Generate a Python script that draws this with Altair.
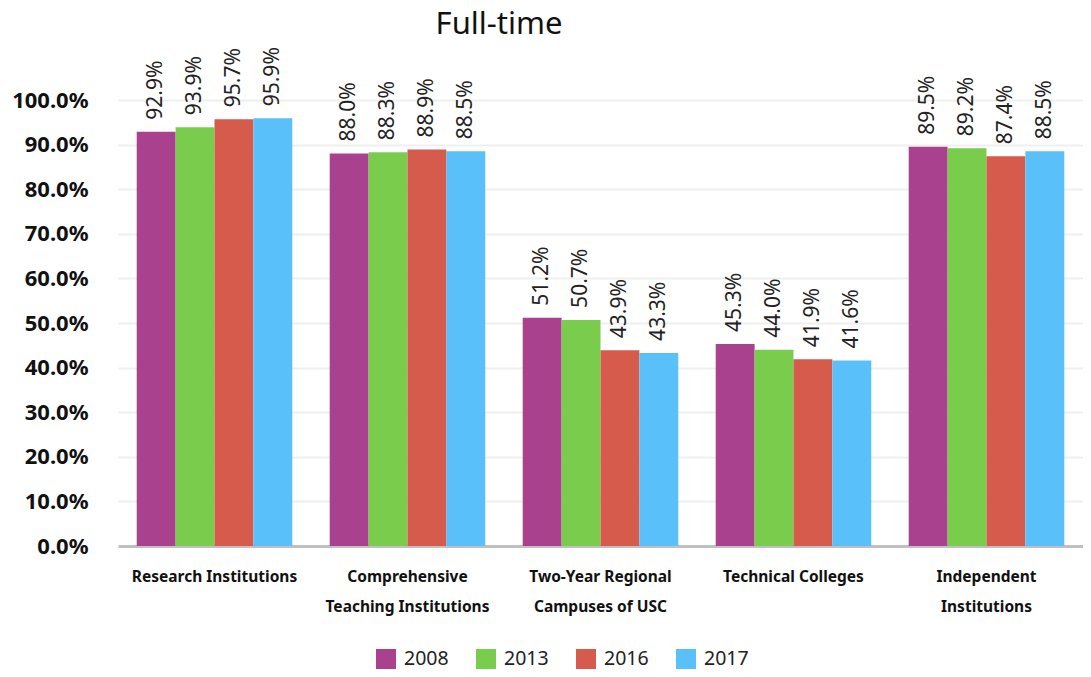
import altair as alt
import pandas as pd

categories = ["Research Institutions", "Comprehensive|Teaching Institutions",
              "Two-Year Regional|Campuses of USC", "Technical Colleges",
              "Independent|Institutions"]
years = ["2008", "2013", "2016", "2017"]
values = {
    "2008": [92.9, 88.0, 51.2, 45.3, 89.5],
    "2013": [93.9, 88.3, 50.7, 44.0, 89.2],
    "2016": [95.7, 88.9, 43.9, 41.9, 87.4],
    "2017": [95.9, 88.5, 43.3, 41.6, 88.5],
}
colors = ["#A9418F", "#7ACC4C", "#D65B4C", "#59C0F9"]
title_text = ["Full-time"]

rows = []
for y in years:
    for c, v in zip(categories, values[y]):
        rows.append({"cat": c, "year": y, "pct": v})
df = pd.DataFrame(rows)

FONT = "Noto Sans"

base = alt.Chart(df).transform_calculate(
    frac="datum.pct / 100",
    lab="format(datum.pct, '.1f') + '%'"
).encode(
    x=alt.X("cat:N", sort=categories, title=None,
            scale=alt.Scale(paddingInner=0.194, paddingOuter=0.097),
            axis=alt.Axis(labelExpr="split(datum.label, '|')", labelAngle=0,
                          labelFont=FONT, labelFontWeight="bold", labelFontSize=15.5,
                          labelColor="#111", labelLineHeight=30, labelPadding=23,
                          ticks=False, domainColor="#c0c0c0", domainWidth=3,
                          grid=False, labelLimit=250)),
    xOffset=alt.XOffset("year:N", sort=years, scale=alt.Scale(paddingInner=0, paddingOuter=0)),
)

bars = base.mark_bar().encode(
    y=alt.Y("frac:Q", title=None,
            scale=alt.Scale(domain=[0, 1], nice=False),
            axis=alt.Axis(format=".1%", values=[i / 10 for i in range(11)],
                          labelFont=FONT, labelFontWeight="bold", labelFontSize=22,
                          labelColor="#111", labelPadding=30, ticks=False,
                          domain=False, gridColor="#efefef", gridWidth=2)),
    color=alt.Color("year:N", sort=years, title=None,
                    scale=alt.Scale(domain=years, range=colors),
                    legend=alt.Legend(orient="none", direction="horizontal",
                                      legendX=258, legendY=549,
                                      symbolType="square", symbolSize=400,
                                      symbolStrokeWidth=0, symbolOpacity=1,
                                      labelFont=FONT, labelFontSize=19.5,
                                      labelColor="#222", columnPadding=27,
                                      labelOffset=8)),
)

labels = base.mark_text(angle=270, align="left", baseline="middle", dx=12,
                        font=FONT, fontSize=21, color="#222").encode(
    y=alt.Y("frac:Q"),
    text=alt.Text("lab:N"),
)

title = alt.Chart(pd.DataFrame({"t": title_text})).mark_text(
    font=FONT, fontSize=31, color="#111", align="center", baseline="alphabetic"
).encode(
    x=alt.value(381), y=alt.value(-66), text="t:N"
)

chart = alt.layer(bars, labels, title).properties(
    width=965, height=446,
    autosize=alt.AutoSizeParams(type="none"),
    padding={"left": 110, "top": 92, "right": 0, "bottom": 123},
).configure_view(stroke=None)

chart.save("out.html", embed_options={"renderer": "svg", "actions": False})
